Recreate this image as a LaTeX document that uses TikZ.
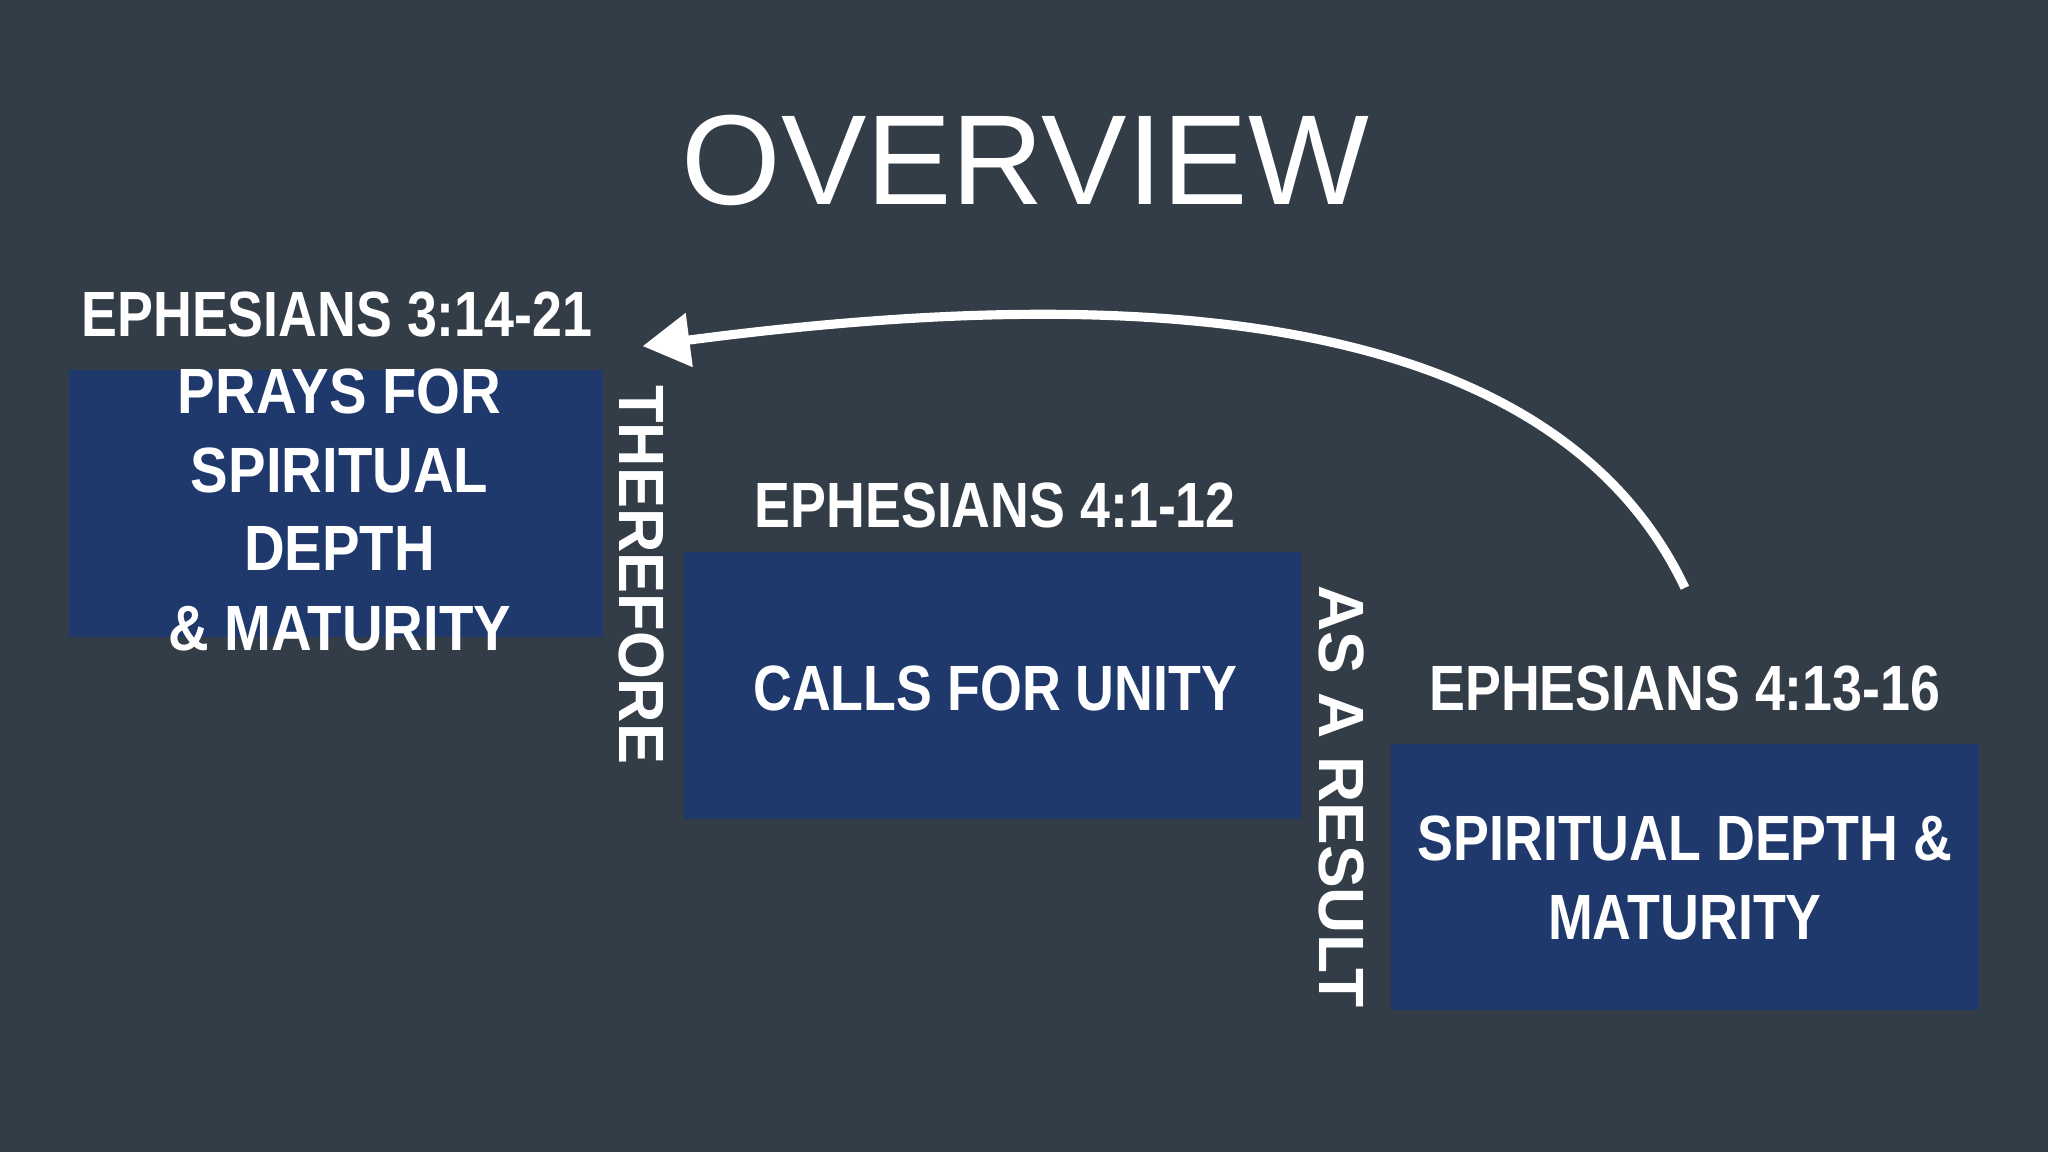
\documentclass[tikz,border=0pt]{standalone}
\usepackage{fontspec}
\setmainfont{Liberation Sans}
\usetikzlibrary{arrows.meta}
\definecolor{bg}{RGB}{51,61,71}
\definecolor{boxc}{RGB}{31,57,108}
\newcommand{\sq}[1]{\scalebox{0.88}[1]{#1}}
\newcommand{\sqh}[1]{\scalebox{0.84}[1]{#1}}
\tikzset{
  blk/.style={fill=boxc,draw=none,inner sep=0},
  lbl/.style={text=white,font=\fontsize{49}{58}\selectfont\bfseries,inner sep=0,anchor=center},
  vlbl/.style={text=white,font=\fontsize{49}{58}\selectfont\bfseries,inner sep=0,rotate=-90,anchor=center}
}
\begin{document}
\begin{tikzpicture}[x=1pt,y=-1pt]
\useasboundingbox[fill=bg] (0,0) rectangle (1568,882);
\node[text=white,font=\fontsize{98}{110}\selectfont,inner sep=0] (title) at (785,123) {OVERVIEW};
\fill[boxc] (53,283) rectangle (462,488);
\fill[boxc] (524,423) rectangle (996,627);
\fill[boxc] (1065,570) rectangle (1515,773);
\node[lbl] (h1) at (258,241) {\sqh{EPHESIANS 3:14-21}};
\node[lbl] (a1) at (260,300) {\sq{PRAYS FOR}};
\node[lbl] (a2) at (260,360) {\sq{SPIRITUAL}};
\node[lbl] (a3) at (260,420) {\sq{DEPTH}};
\node[lbl] (a4) at (260,481) {\sq{\& MATURITY}};
\node[vlbl] (t1) at (491,440) {\scalebox{0.96}[1]{THEREFORE}};
\node[lbl] (h2) at (762,387) {\sqh{EPHESIANS 4:1-12}};
\node[lbl] (b1) at (762,527) {\sqh{CALLS FOR UNITY}};
\node[vlbl] (t2) at (1027,610) {AS A RESULT};
\node[lbl] (h3) at (1290,527) {\sqh{EPHESIANS 4:13-16}};
\node[lbl] (c1) at (1290,642) {\sqh{SPIRITUAL DEPTH \&}};
\node[lbl] (c2) at (1290,703) {\sqh{MATURITY}};
\coordinate (s) at (1290,450);
\coordinate (e) at (492,265);
\draw[white,line width=7pt,-{Triangle[length=36pt,width=40pt]}] (s) .. controls (1180,218) and (820,222) .. (e);
\end{tikzpicture}
\end{document}
